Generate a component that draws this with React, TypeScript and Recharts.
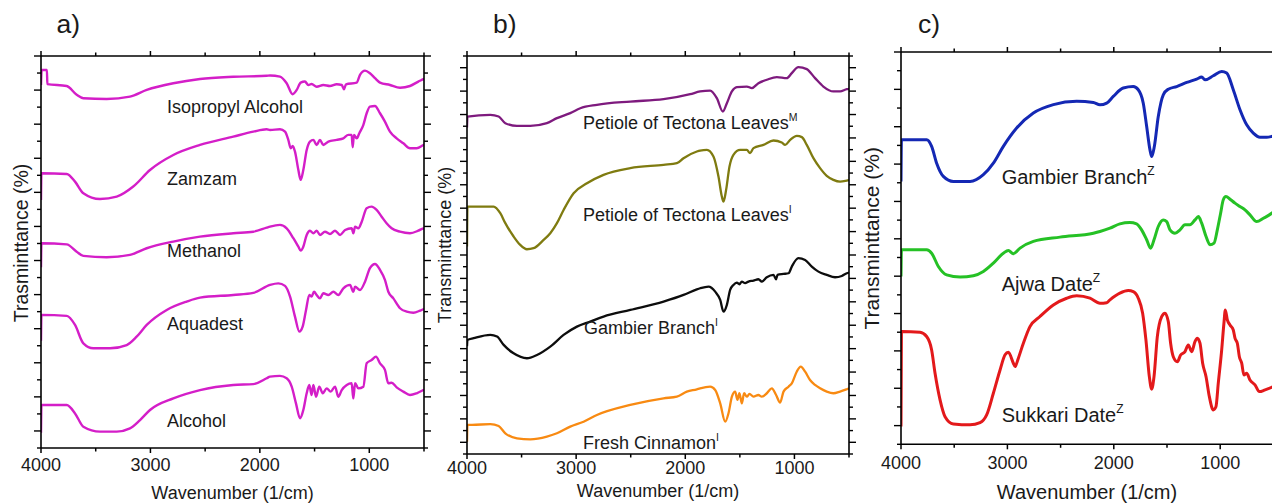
import React from "react";
import { LineChart, Line, XAxis, YAxis } from "recharts";

type Pt = [number, number];

// wavenumber ticks (axis runs 4000 -> 500)
const X_TICKS = [4000, 3500, 3000, 2500, 2000, 1500, 1000, 500];

// ---- panel a) solvents ----
const ISOPROPYL: Pt[] = [
  [4000, 21.3], [3994, 22.18], [3946, 22.18], [3942, 21.35], [3765, 21.24], [3674, 20.72], [3613, 20.52],
  [3400, 20.48], [3187, 20.62], [3034, 21.01], [2791, 21.4], [2547, 21.65], [2243, 21.78], [1938, 21.84],
  [1907, 21.86], [1816, 21.79], [1755, 21.4], [1700, 20.76], [1663, 21.01], [1627, 21.44], [1588, 21.5],
  [1557, 21.3], [1527, 21.36], [1481, 21.2], [1420, 21.3], [1359, 21.24], [1298, 21.34], [1252, 21.3],
  [1231, 21.05], [1213, 21.34], [1115, 21.44], [1085, 21.89], [1039, 22.14], [994, 21.99], [948, 21.7],
  [902, 21.44], [811, 21.3], [719, 21.14], [628, 21.24], [552, 21.5], [506, 21.64], [500, 21.66],
];
const ZAMZAM: Pt[] = [
  [4000, 14.55], [3996, 16.12], [3765, 16.08], [3689, 15.63], [3613, 14.95], [3461, 14.61], [3308, 14.75],
  [3157, 15.34], [3004, 16.31], [2791, 17.19], [2547, 17.78], [2243, 18.27], [2060, 18.56], [1938, 18.7],
  [1907, 18.66], [1816, 18.7], [1770, 18.56], [1740, 18.08], [1718, 17.59], [1700, 17.72], [1679, 17.39],
  [1648, 16.31], [1627, 15.73], [1603, 16.31], [1572, 17.49], [1542, 17.98], [1511, 18.08], [1481, 17.78],
  [1451, 18.08], [1420, 17.78], [1374, 17.98], [1298, 18.08], [1237, 18.17], [1191, 18.37], [1161, 18.37],
  [1152, 17.65], [1140, 18.37], [1115, 18.17], [1091, 18.47], [1054, 18.96], [1024, 19.64], [994, 20.03],
  [948, 20.07], [902, 19.64], [857, 19.15], [811, 18.56], [750, 18.17], [689, 17.88], [628, 17.59],
  [567, 17.59], [506, 17.78], [500, 17.8],
];
const METHANOL: Pt[] = [
  [4000, 10.6], [3996, 12.01], [3765, 11.95], [3674, 11.52], [3613, 11.27], [3400, 11.19], [3187, 11.33],
  [3034, 11.72], [2791, 12.11], [2547, 12.4], [2243, 12.6], [2060, 12.69], [1938, 12.93], [1907, 12.99],
  [1816, 13.09], [1755, 12.89], [1694, 12.31], [1648, 11.81], [1627, 11.58], [1603, 11.81], [1572, 12.5],
  [1542, 12.75], [1511, 12.6], [1481, 12.75], [1451, 12.5], [1405, 12.69], [1359, 12.56], [1313, 12.75],
  [1267, 12.5], [1221, 12.79], [1161, 12.89], [1146, 12.6], [1130, 12.99], [1100, 12.89], [1069, 13.28],
  [1024, 14.07], [979, 14.16], [933, 13.97], [887, 13.57], [842, 13.19], [796, 12.89], [719, 12.69],
  [628, 12.6], [552, 12.75], [506, 12.89], [500, 12.9],
];
const AQUADEST: Pt[] = [
  [4000, 6.3], [3996, 7.81], [3765, 7.75], [3689, 7.22], [3613, 6.14], [3522, 5.85], [3369, 5.85],
  [3217, 6.04], [3126, 6.53], [3034, 7.22], [2851, 8.1], [2669, 8.59], [2547, 8.82], [2243, 8.98],
  [2060, 9.1], [1907, 9.57], [1831, 9.66], [1770, 9.51], [1724, 8.88], [1679, 7.71], [1639, 6.83],
  [1609, 7.12], [1578, 8.1], [1548, 8.98], [1527, 8.88], [1505, 9.17], [1481, 8.98], [1451, 8.78],
  [1420, 9.08], [1374, 8.98], [1328, 9.17], [1283, 8.98], [1237, 9.37], [1176, 9.57], [1146, 9.17],
  [1130, 9.47], [1085, 9.27], [1039, 9.76], [994, 10.55], [948, 10.8], [902, 10.45], [857, 9.86],
  [826, 9.17], [780, 8.78], [719, 8.2], [658, 8.0], [597, 7.94], [536, 8.06], [506, 8.14], [500, 8.16],
];
const ALCOHOL: Pt[] = [
  [4000, 0.9], [3996, 2.52], [3765, 2.52], [3689, 2.03], [3613, 1.25], [3461, 0.96], [3308, 0.96],
  [3187, 1.15], [3095, 1.64], [3004, 2.23], [2791, 2.91], [2547, 3.4], [2243, 3.7], [2060, 3.75],
  [1938, 4.09], [1907, 4.19], [1816, 4.23], [1755, 4.09], [1709, 3.6], [1670, 2.62], [1633, 1.74],
  [1603, 2.23], [1572, 3.21], [1548, 3.7], [1527, 3.11], [1511, 3.7], [1487, 3.01], [1457, 3.6],
  [1426, 3.21], [1389, 3.5], [1353, 3.31], [1313, 3.6], [1283, 3.01], [1252, 3.4], [1206, 3.7],
  [1161, 3.8], [1146, 2.91], [1130, 3.8], [1100, 3.5], [1054, 3.6], [1024, 4.97], [979, 5.16],
  [939, 5.36], [902, 4.97], [857, 4.58], [826, 3.8], [796, 3.83], [750, 3.56], [689, 3.31], [628, 3.11],
  [567, 3.21], [506, 3.4], [500, 3.42],
];

// ---- panel b) ----
const PETIOLE_M: Pt[] = [
  [4000, 27.9], [3996, 28.83], [3786, 28.97], [3710, 28.83], [3649, 28.26], [3542, 28.03], [3420, 28.03],
  [3268, 28.26], [3176, 28.69], [3054, 29.12], [2962, 29.54], [2810, 29.83], [2504, 30.11], [2199, 30.31],
  [1955, 30.74], [1864, 30.97], [1772, 31.05], [1711, 30.4], [1656, 29.26], [1619, 29.97], [1573, 30.97],
  [1528, 31.34], [1436, 31.39], [1390, 31.26], [1330, 31.68], [1253, 31.97], [1161, 32.2], [1070, 32.11],
  [1024, 32.54], [964, 33.05], [887, 32.88], [811, 32.11], [735, 31.39], [643, 30.97], [582, 30.97],
  [520, 31.17], [500, 31.2],
];
const PETIOLE_I: Pt[] = [
  [4000, 17.72], [3996, 21.14], [3939, 21.14], [3756, 21.14], [3695, 20.57], [3649, 19.72], [3573, 18.58],
  [3512, 17.86], [3451, 17.49], [3390, 17.58], [3298, 18.29], [3237, 18.86], [3176, 19.72], [3115, 20.85],
  [3023, 22.28], [2901, 23.13], [2749, 23.85], [2504, 24.42], [2199, 24.7], [2077, 24.84], [2016, 25.27],
  [1894, 25.84], [1864, 25.92], [1802, 25.98], [1742, 25.41], [1696, 23.7], [1665, 21.99], [1650, 21.56],
  [1626, 22.56], [1595, 24.56], [1559, 25.56], [1497, 25.98], [1436, 25.98], [1406, 25.7], [1375, 26.13],
  [1284, 26.41], [1192, 26.78], [1116, 26.61], [1085, 26.41], [1039, 26.84], [978, 27.18], [932, 27.07],
  [887, 26.41], [826, 25.27], [765, 24.42], [704, 23.76], [643, 23.42], [582, 23.27], [520, 23.36],
  [500, 23.4],
];
const GAMBIER_I: Pt[] = [
  [4000, 9.2], [3996, 9.74], [3939, 9.89], [3786, 10.17], [3725, 10.03], [3664, 9.32], [3573, 8.6],
  [3451, 8.18], [3359, 8.46], [3237, 9.17], [3115, 10.17], [2993, 10.88], [2871, 11.31], [2749, 11.74],
  [2504, 12.31], [2199, 13.02], [2016, 13.59], [1894, 14.07], [1864, 14.16], [1787, 14.3], [1726, 13.87],
  [1680, 13.16], [1650, 12.16], [1619, 12.74], [1589, 14.02], [1559, 14.44], [1528, 14.64], [1504, 14.5],
  [1482, 14.73], [1452, 14.59], [1421, 14.73], [1375, 14.81], [1330, 14.93], [1299, 14.73], [1253, 15.1],
  [1192, 15.3], [1168, 14.93], [1155, 15.3], [1100, 15.38], [1054, 15.44], [1024, 16.01], [964, 16.73],
  [902, 16.58], [841, 16.01], [780, 15.58], [704, 15.3], [628, 15.1], [566, 15.21], [520, 15.44],
  [500, 15.5],
];
const CINNAMON_I: Pt[] = [
  [4000, 1.05], [3996, 2.48], [3954, 2.48], [3786, 2.56], [3710, 2.39], [3649, 1.77], [3542, 1.34],
  [3420, 1.25], [3268, 1.48], [3176, 1.77], [3054, 2.34], [2932, 2.76], [2810, 3.33], [2504, 4.19],
  [2199, 4.76], [2077, 4.9], [1986, 5.33], [1894, 5.53], [1864, 5.61], [1772, 5.75], [1726, 5.47],
  [1680, 4.33], [1634, 2.76], [1604, 3.48], [1573, 4.9], [1543, 5.33], [1522, 4.62], [1504, 5.19],
  [1482, 4.33], [1461, 5.19], [1436, 4.9], [1412, 5.13], [1375, 4.9], [1330, 5.04], [1299, 4.9],
  [1253, 5.19], [1207, 5.61], [1168, 5.04], [1131, 4.39], [1100, 5.33], [1054, 5.75], [1024, 6.04],
  [979, 7.03], [942, 7.46], [902, 7.03], [857, 6.32], [811, 5.9], [765, 5.61], [704, 5.33], [643, 5.19],
  [582, 5.33], [520, 5.53], [500, 5.6],
];

// ---- panel c) ----
const GAMBIER_Z: Pt[] = [
  [4000, 14.07], [3996, 16.3], [3759, 16.3], [3712, 15.95], [3665, 15.05], [3602, 14.34], [3508, 14.07],
  [3351, 14.07], [3226, 14.43], [3132, 15.05], [3038, 15.95], [2913, 16.93], [2756, 17.73], [2568, 18.18],
  [2349, 18.36], [2192, 18.3], [2130, 18.17], [2067, 18.26], [2005, 18.62], [1911, 19.07], [1817, 19.15],
  [1770, 18.98], [1723, 18.26], [1691, 17.01], [1660, 15.76], [1644, 15.4], [1619, 15.94], [1582, 17.55],
  [1535, 18.71], [1488, 19.01], [1409, 19.15], [1315, 19.37], [1221, 19.55], [1174, 19.66], [1143, 19.51],
  [1065, 19.73], [986, 19.96], [939, 19.87], [877, 18.98], [814, 17.91], [751, 17.1], [689, 16.66],
  [626, 16.44], [563, 16.44], [516, 16.48], [500, 16.5],
];
const AJWA_Z: Pt[] = [
  [4000, 8.98], [3996, 10.41], [3759, 10.41], [3712, 10.23], [3649, 9.52], [3571, 9.07], [3445, 8.95],
  [3320, 9.02], [3226, 9.25], [3132, 9.7], [3038, 10.23], [2991, 10.38], [2944, 10.2], [2881, 10.5],
  [2756, 10.86], [2506, 11.09], [2192, 11.3], [2130, 11.39], [2036, 11.57], [1943, 11.8], [1849, 11.87],
  [1786, 11.8], [1739, 11.48], [1691, 10.95], [1654, 10.5], [1622, 10.95], [1582, 11.66], [1535, 12.01],
  [1503, 11.92], [1472, 11.48], [1425, 11.3], [1378, 11.48], [1331, 11.75], [1284, 11.75], [1237, 12.01],
  [1205, 12.19], [1174, 11.84], [1133, 11.12], [1096, 10.68], [1058, 10.77], [1027, 11.48], [996, 12.37],
  [971, 13.09], [946, 13.26], [908, 13.12], [861, 12.91], [814, 12.73], [767, 12.55], [720, 12.28],
  [657, 11.92], [594, 12.1], [516, 12.37], [500, 12.45],
];
const SUKKARI_Z: Pt[] = [
  [4000, 0.95], [3996, 6.04], [3821, 6.0], [3759, 5.77], [3712, 5.05], [3680, 3.8], [3633, 2.38],
  [3586, 1.48], [3508, 1.09], [3351, 1.04], [3257, 1.16], [3195, 1.57], [3132, 2.73], [3069, 3.98],
  [3022, 4.79], [2991, 4.93], [2944, 4.34], [2928, 4.16], [2897, 4.61], [2850, 5.41], [2788, 6.3],
  [2694, 6.84], [2568, 7.46], [2443, 7.82], [2349, 7.95], [2224, 7.82], [2130, 7.55], [2067, 7.58],
  [2036, 7.73], [1943, 8.09], [1864, 8.23], [1817, 8.17], [1770, 7.82], [1729, 7.02], [1698, 5.59],
  [1666, 3.62], [1644, 2.95], [1622, 3.62], [1591, 5.76], [1550, 6.83], [1519, 7.02], [1488, 6.57],
  [1466, 5.41], [1441, 4.69], [1403, 4.42], [1372, 4.78], [1331, 4.96], [1300, 5.32], [1268, 4.96],
  [1237, 5.5], [1215, 5.68], [1190, 5.41], [1165, 4.34], [1133, 3.62], [1102, 2.55], [1065, 1.84],
  [1040, 2.01], [1018, 3.27], [986, 5.05], [965, 6.48], [952, 7.19], [933, 6.66], [908, 6.39],
  [877, 6.12], [861, 5.68], [839, 5.41], [820, 4.69], [798, 4.34], [777, 3.71], [751, 3.8], [720, 3.44],
  [673, 3.18], [632, 2.82], [579, 2.91], [516, 3.05], [500, 3.1],
];

interface Series {
  name: string;
  tag?: string;
  color: string;
  points: Pt[];
}

const SERIES_A: Series[] = [
  { name: "Isopropyl Alcohol", color: "#d41ec8", points: ISOPROPYL },
  { name: "Zamzam", color: "#d41ec8", points: ZAMZAM },
  { name: "Methanol", color: "#d41ec8", points: METHANOL },
  { name: "Aquadest", color: "#d41ec8", points: AQUADEST },
  { name: "Alcohol", color: "#d41ec8", points: ALCOHOL },
];
const SERIES_B: Series[] = [
  { name: "Petiole of Tectona Leaves", tag: "M", color: "#7e1a7e", points: PETIOLE_M },
  { name: "Petiole of Tectona Leaves", tag: "I", color: "#7f7b10", points: PETIOLE_I },
  { name: "Gambier Branch", tag: "I", color: "#0d0d0d", points: GAMBIER_I },
  { name: "Fresh Cinnamon", tag: "I", color: "#f88a12", points: CINNAMON_I },
];
const SERIES_C: Series[] = [
  { name: "Gambier Branch", tag: "Z", color: "#1428b4", points: GAMBIER_Z },
  { name: "Ajwa Date", tag: "Z", color: "#25c125", points: AJWA_Z },
  { name: "Sukkari Date", tag: "Z", color: "#e3191b", points: SUKKARI_Z },
];

const FONT = '"Liberation Sans", Arial, Helvetica, sans-serif';
const INK = "#1a1a1a";

interface PanelCfg {
  letter: string;
  yTitle: string;
  series: Series[];
  yMax: number;
  left: number;
  width: number;
  // plot box edges in page pixels
  box: { left: number; right: number; top: number; bottom: number };
  lineWidth: number;
  tickDy: number;
  letterPos: [number, number];
  xTitlePos: [number, number];
  xTitleSize: number;
  yTitlePos: [number, number];
  yTitleSize: number;
  labelPos: [number, number][];
  labelSize: number;
  supSize: number;
  supDy: number;
}

const PANELS: PanelCfg[] = [
  {
    letter: "a)", yTitle: "Trasminttance (%)", series: SERIES_A, yMax: 23,
    left: 0, width: 440, box: { left: 41, right: 424, top: 56, bottom: 448 },
    lineWidth: 2.4, tickDy: 23, letterPos: [56.5, 33], xTitlePos: [232.5, 499], xTitleSize: 18,
    yTitlePos: [27.5, 243], yTitleSize: 19.5,
    labelPos: [[167, 112.5], [167, 185], [167, 256.5], [167, 330], [167, 426.5]],
    labelSize: 18, supSize: 11, supDy: -8,
  },
  {
    letter: "b)", yTitle: "Transminttance (%)", series: SERIES_B, yMax: 34,
    left: 430, width: 440, box: { left: 467, right: 849, top: 56, bottom: 454 },
    lineWidth: 2.3, tickDy: 19.5, letterPos: [493, 33], xTitlePos: [658, 497], xTitleSize: 18,
    yTitlePos: [451.3, 245], yTitleSize: 18,
    labelPos: [[583, 129], [583, 220.5], [584, 334], [583, 449]],
    labelSize: 18, supSize: 10.5, supDy: -8,
  },
  {
    letter: "c)", yTitle: "Transminttance (%)", series: SERIES_C, yMax: 21,
    left: 860, width: 420, box: { left: 901, right: 1273.4, top: 52, bottom: 444.3 },
    lineWidth: 3, tickDy: 25, letterPos: [918, 33], xTitlePos: [1087, 499], xTitleSize: 20,
    yTitlePos: [879, 238.3], yTitleSize: 21,
    labelPos: [[1001.7, 184.3], [1001.7, 290.7], [1001.7, 421.7]],
    labelSize: 20, supSize: 12, supDy: -9,
  },
];

const toRows = (pts: Pt[]) => pts.map(([x, y]) => ({ x, y })).reverse();

const xTick = (side: "bottom" | "top", labelDy: number) => (props: any) => {
  const { x, y, payload } = props;
  const v = payload.value as number;
  const major = v % 1000 === 0;
  const dir = side === "bottom" ? 1 : -1;
  return (
    <g>
      <line x1={x} y1={y} x2={x} y2={y + dir * (major ? 5 : 3.5)} stroke="#000" strokeWidth={1.5} />
      {side === "bottom" && major && (
        <text x={x} y={y + labelDy} textAnchor="middle" fontSize={18} fontFamily={FONT} fill={INK}>
          {v}
        </text>
      )}
    </g>
  );
};

const yTick = (side: "left" | "right") => (props: any) => {
  const { x, y, payload } = props;
  const len = (payload.value as number) % 2 === 1 ? 7 : 4;
  const dir = side === "left" ? -1 : 1;
  return <line x1={x} y1={y} x2={x + dir * len} y2={y} stroke="#000" strokeWidth={1.4} />;
};

const AXIS_LINE = { stroke: "#000", strokeWidth: 1.6 };
const AX = 1; // axis band thickness (recharts skips axes of zero size)

function Panel({ cfg }: { cfg: PanelCfg }) {
  const yTicks = Array.from({ length: cfg.yMax + 1 }, (_, i) => i);
  const b = cfg.box;
  const margin = {
    top: b.top - AX,
    bottom: 504 - b.bottom - AX,
    left: b.left - cfg.left - AX,
    right: cfg.left + cfg.width - b.right - AX,
  };
  return (
    <div style={{ position: "absolute", left: cfg.left, top: 0 }}>
      <LineChart width={cfg.width} height={504} margin={margin}>
        <XAxis
          xAxisId="b" type="number" dataKey="x" domain={[500, 4000]} reversed allowDataOverflow
          ticks={X_TICKS} interval={0} height={AX} tickSize={0} tickMargin={0} tickLine={false}
          axisLine={AXIS_LINE} tick={xTick("bottom", cfg.tickDy)}
        />
        <XAxis
          xAxisId="t" orientation="top" type="number" dataKey="x" domain={[500, 4000]} reversed allowDataOverflow
          ticks={X_TICKS} interval={0} height={AX} tickSize={0} tickMargin={0} tickLine={false}
          axisLine={AXIS_LINE} tick={xTick("top", 0)}
        />
        <YAxis
          yAxisId="l" type="number" domain={[0, cfg.yMax]} allowDataOverflow ticks={yTicks} interval={0}
          width={AX} tickSize={0} tickMargin={0} tickLine={false} axisLine={AXIS_LINE} tick={yTick("left")}
        />
        <YAxis
          yAxisId="r" orientation="right" type="number" domain={[0, cfg.yMax]} allowDataOverflow ticks={yTicks}
          interval={0} width={AX} tickSize={0} tickMargin={0} tickLine={false} axisLine={AXIS_LINE}
          tick={yTick("right")}
        />
        {cfg.series.map((s, i) => (
          <Line
            key={i}
            xAxisId="b"
            yAxisId="l"
            data={toRows(s.points)}
            dataKey="y"
            type="monotone"
            stroke={s.color}
            strokeWidth={cfg.lineWidth}
            dot={false}
            activeDot={false}
            isAnimationActive={false}
          />
        ))}
      </LineChart>
    </div>
  );
}

function Texts() {
  return (
    <svg
      width={1272}
      height={504}
      style={{ position: "absolute", left: 0, top: 0, pointerEvents: "none" }}
      fontFamily={FONT}
      fill={INK}
    >
      {PANELS.map((p) => (
        <g key={p.letter}>
          <text x={p.letterPos[0]} y={p.letterPos[1]} fontSize={26.5}>
            {p.letter}
          </text>
          <text x={p.xTitlePos[0]} y={p.xTitlePos[1]} fontSize={p.xTitleSize} textAnchor="middle">
            Wavenumber (1/cm)
          </text>
          <text
            transform={`translate(${p.yTitlePos[0]},${p.yTitlePos[1]}) rotate(-90)`}
            fontSize={p.yTitleSize}
            textAnchor="middle"
          >
            {p.yTitle}
          </text>
          {p.series.map((s, i) => (
            <text key={i} x={p.labelPos[i][0]} y={p.labelPos[i][1]} fontSize={p.labelSize}>
              {s.name}
              {s.tag && (
                <tspan fontSize={p.supSize} dy={p.supDy}>
                  {s.tag}
                </tspan>
              )}
            </text>
          ))}
        </g>
      ))}
    </svg>
  );
}

export default function App() {
  return (
    <div style={{ position: "relative", width: 1272, height: 504, overflow: "hidden", background: "#fff" }}>
      <style>{`body{margin:0;overflow:hidden}`}</style>
      {PANELS.map((p) => (
        <Panel key={p.letter} cfg={p} />
      ))}
      <Texts />
    </div>
  );
}
